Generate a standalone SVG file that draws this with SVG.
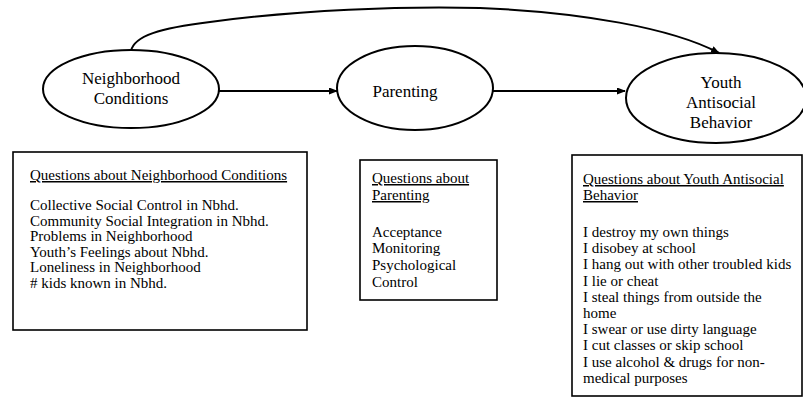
<svg xmlns="http://www.w3.org/2000/svg" width="803" height="406" viewBox="0 0 803 406">
<style>
  .node { fill: #fff; stroke: #000; stroke-width: 2; }
  .box { fill: #fff; stroke: #000; stroke-width: 1.6; }
  .lbl { font-family: "Liberation Serif", "Times New Roman", serif; font-size: 17px; fill: #000; text-anchor: middle; }
  .txt { font-family: "Liberation Serif", "Times New Roman", serif; font-size: 15px; fill: #000; }
  .u { text-decoration: underline; }
  .edge { fill: none; stroke: #000; stroke-width: 2; }
</style>
<defs>
  <marker id="arr" markerWidth="9" markerHeight="7" refX="8" refY="3.5" orient="auto" markerUnits="userSpaceOnUse">
    <path d="M0,0 L9,3.5 L0,7 Z" fill="#000"/>
  </marker>
</defs>
<rect width="803" height="406" fill="#fff"/>
<g id="connectors">
  <path class="edge" d="M131,51 C134,36 160,28 210,22 C300,10 400,6 480,8 C580,12 672,28 719,53" marker-end="url(#arr)"/>
  <line class="edge" x1="219" y1="91" x2="337" y2="91" marker-end="url(#arr)"/>
  <line class="edge" x1="493" y1="91" x2="625" y2="91" marker-end="url(#arr)"/>
</g>
<g id="node-neighborhood">
  <ellipse class="node" cx="131" cy="89" rx="88" ry="39"/>
  <text class="lbl" x="131" y="84">Neighborhood</text>
  <text class="lbl" x="131" y="104">Conditions</text>
</g>
<g id="node-parenting">
  <ellipse class="node" cx="415" cy="88" rx="78" ry="42"/>
  <text class="lbl" x="405" y="97">Parenting</text>
</g>
<g id="node-youth">
  <ellipse class="node" cx="716" cy="98" rx="90" ry="45"/>
  <text class="lbl" x="721" y="88">Youth</text>
  <text class="lbl" x="721" y="108">Antisocial</text>
  <text class="lbl" x="721" y="128">Behavior</text>
</g>
<g id="box-neighborhood">
  <rect class="box" x="13" y="152" width="294" height="178"/>
  <text class="txt u" x="30" y="180">Questions about Neighborhood Conditions</text>
  <text class="txt" x="30" y="210">Collective Social Control in Nbhd.</text>
  <text class="txt" x="30" y="225.5">Community Social Integration in Nbhd.</text>
  <text class="txt" x="30" y="241">Problems in Neighborhood</text>
  <text class="txt" x="30" y="256.5">Youth’s Feelings about Nbhd.</text>
  <text class="txt" x="30" y="272">Loneliness in Neighborhood</text>
  <text class="txt" x="30" y="287.5"># kids known in Nbhd.</text>
</g>
<g id="box-parenting">
  <rect class="box" x="360" y="160" width="137" height="140"/>
  <text class="txt u" x="372" y="183">Questions about</text>
  <text class="txt u" x="372" y="200">Parenting</text>
  <text class="txt" x="372" y="237">Acceptance</text>
  <text class="txt" x="372" y="253">Monitoring</text>
  <text class="txt" x="372" y="270">Psychological</text>
  <text class="txt" x="372" y="287">Control</text>
</g>
<g id="box-youth">
  <rect class="box" x="572" y="155" width="230" height="241"/>
  <text class="txt u" x="583" y="184">Questions about Youth Antisocial</text>
  <text class="txt u" x="583" y="200">Behavior</text>
  <text class="txt" x="583" y="237">I destroy my own things</text>
  <text class="txt" x="583" y="253">I disobey at school</text>
  <text class="txt" x="583" y="269">I hang out with other troubled kids</text>
  <text class="txt" x="583" y="286">I lie or cheat</text>
  <text class="txt" x="583" y="302">I steal things from outside the</text>
  <text class="txt" x="583" y="318">home</text>
  <text class="txt" x="583" y="334">I swear or use dirty language</text>
  <text class="txt" x="583" y="350">I cut classes or skip school</text>
  <text class="txt" x="583" y="367">I use alcohol &amp; drugs for non-</text>
  <text class="txt" x="583" y="383">medical purposes</text>
</g>
</svg>
